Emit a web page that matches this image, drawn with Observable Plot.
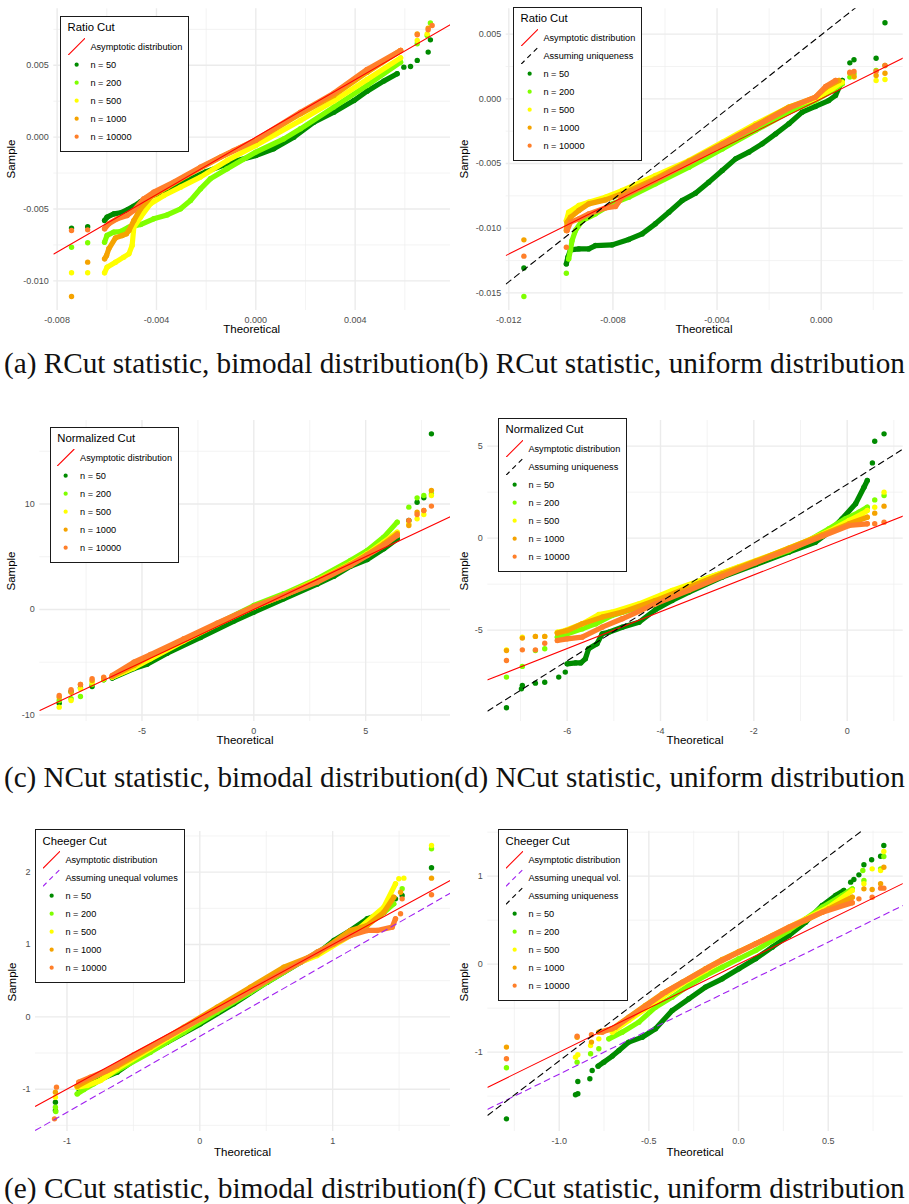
<!DOCTYPE html>
<html>
<head>
<meta charset="utf-8">
<script src="https://cdn.jsdelivr.net/npm/d3@7"></script>
<script src="https://cdn.jsdelivr.net/npm/@observablehq/plot@0.6"></script>
<style>
  html, body { margin: 0; padding: 0; background: #fff; }
  #page { position: relative; width: 909px; height: 1204px; overflow: hidden; background: #fff; font-family: "Liberation Sans", Arial, sans-serif; }
  .pnl { position: absolute; }
  .pnl svg { display: block; overflow: visible; }
  .at { position: absolute; font-size: 11.5px; color: #000; white-space: nowrap; transform: translate(-50%, -50%); line-height: 1; }
  .at.rot { transform: translate(-50%, -50%) rotate(-90deg); }
  .lg { position: absolute; background: #fff; border: 1px solid #1a1a1a; padding: 4.5px 6px 5px 6.3px; box-sizing: border-box; }
  .lt { font-size: 11.3px; line-height: 13px; height: 13px; margin-bottom: 3.5px; color: #000; white-space: nowrap; }
  .lr { display: flex; align-items: center; height: 18px; }
  .lr svg { width: 17.3px; height: 17.3px; flex: none; display: block; }
  .ll { margin-left: 5.5px; font-size: 9.2px; color: #000; white-space: nowrap; }
  #cap { position: absolute; left: 0; top: 0; pointer-events: none; }
</style>
</head>
<body>
<div id="page"></div>
<script>
// ---------------- shared categories ----------------
const seriesLabels = ["n = 50", "n = 200", "n = 500", "n = 1000", "n = 10000"];
const seriesColors = ["#008B00", "#7FFF00", "#FFFF00", "#F5A300", "#FF7F2A"];
const refColors = { asym: "#FF0000", uniq: "#000000", uneq: "#A020F0" };

// ---------------- (a) RCut, bimodal ----------------
const aTitle = "Ratio Cut";
const aXTicks = [-0.008, -0.004, 0, 0.004];
const aXLabels = ["-0.008", "-0.004", "0.000", "0.004"];
const aXMinor = [-0.006, -0.002, 0.002, 0.006];
const aYTicks = [-0.010, -0.005, 0, 0.005];
const aYLabels = ["-0.010", "-0.005", "0.000", "0.005"];
const aYMinor = [-0.0075, -0.0025, 0.0025, 0.0075];
const aXDomain = [-0.008134, 0.007839];
const aYDomain = [-0.012064, 0.008932];
const aLines = [["asym", "Asymptotic distribution", 1, 0]];
const a50b = [[-0.00609,-0.00580],[-0.00599,-0.00557],[-0.00572,-0.00534],[-0.00545,-0.00527],[-0.00518,-0.00506],[-0.00491,-0.00480],[-0.00464,-0.00450],[-0.00438,-0.00420],[-0.00397,-0.00394],[-0.00303,-0.00325],[-0.00200,-0.00240],[-0.00089,-0.00170],[0,-0.00128],[0.00072,-0.00081],[0.00153,0],[0.00234,0.00104],[0.00314,0.00174],[0.00395,0.00255],[0.00448,0.00320],[0.00515,0.00390],[0.00569,0.00441]];
const a50t = [[-0.00742,-0.00633],[-0.00677,-0.00624],[0.00596,0.00487],[0.00623,0.00492],[0.00650,0.00534],[0.00694,0.00592],[0.00703,0.00677]];
const a200b = [[-0.00609,-0.00731],[-0.00599,-0.00684],[-0.00572,-0.00661],[-0.00545,-0.00657],[-0.00511,-0.00626],[-0.00464,-0.00608],[-0.00411,-0.00568],[-0.00357,-0.00541],[-0.00303,-0.00499],[-0.00263,-0.00441],[-0.00223,-0.00360],[-0.00183,-0.00290],[-0.00115,-0.00220],[0,-0.00104],[0.00113,-0.00012],[0.00180,0.00058],[0.00314,0.00209],[0.00448,0.00360],[0.00583,0.00522]];
const a200t = [[-0.00742,-0.00766],[-0.00677,-0.00735],[0.00650,0.00650],[0.00690,0.00708],[0.00703,0.00794]];
const a500b = [[-0.00609,-0.00944],[-0.00599,-0.00905],[-0.00565,-0.00870],[-0.00532,-0.00835],[-0.00511,-0.00812],[-0.00498,-0.00754],[-0.00491,-0.00626],[-0.00464,-0.00557],[-0.00424,-0.00464],[-0.00370,-0.00406],[-0.00303,-0.00348],[-0.00223,-0.00278],[-0.00115,-0.00162],[0,-0.00058],[0.00180,0.00116],[0.00314,0.00251],[0.00448,0.00401],[0.00583,0.00552]];
const a500t = [[-0.00742,-0.00944],[-0.00677,-0.00944],[0.00650,0.00673],[0.00690,0.00719]];
const a1000b = [[-0.00609,-0.00847],[-0.00601,-0.00824],[-0.00592,-0.00777],[-0.00565,-0.00701],[-0.00538,-0.00684],[-0.00521,-0.00673],[-0.00511,-0.00650],[-0.00491,-0.00580],[-0.00464,-0.00499],[-0.00424,-0.00418],[-0.00357,-0.00348],[-0.00277,-0.00267],[-0.00142,-0.00139],[0,-0.00023],[0.00180,0.00162],[0.00314,0.00290],[0.00448,0.00452],[0.00583,0.00603]];
const a1000t = [[-0.00742,-0.01109],[-0.00677,-0.00870],[0.00650,0.00719],[0.00694,0.00759]];
const a10000b = [[-0.00609,-0.00638],[-0.00592,-0.00603],[-0.00558,-0.00568],[-0.00518,-0.00545],[-0.00491,-0.00510],[-0.00451,-0.00429],[-0.00411,-0.00383],[-0.00330,-0.00313],[-0.00223,-0.00209],[-0.00089,-0.00093],[0,-0.00019],[0.00180,0.00174],[0.00314,0.00306],[0.00448,0.00471],[0.00583,0.00603]];
const a10000t = [[-0.00742,-0.00650],[-0.00677,-0.00645],[0.00650,0.00712],[0.00694,0.00747],[0.00710,0.00777]];

// ---------------- (b) RCut, uniform ----------------
const bTitle = "Ratio Cut";
const bXTicks = [-0.012, -0.008, -0.004, 0];
const bXLabels = ["-0.012", "-0.008", "-0.004", "0.000"];
const bXMinor = [-0.010, -0.006, -0.002, 0.002];
const bYTicks = [-0.015, -0.010, -0.005, 0, 0.005];
const bYLabels = ["-0.015", "-0.010", "-0.005", "0.000", "0.005"];
const bYMinor = [-0.0125, -0.0075, -0.0025, 0.0025];
const bXDomain = [-0.01210, 0.00315];
const bYDomain = [-0.01636, 0.006958];
const bLines = [["asym", "Asymptotic distribution", 1, 0], ["uniq", "Assuming uniqueness", 1.59, 0.00494]];
const b50b = [[-0.00979,-0.01276],[-0.00973,-0.01224],[-0.00963,-0.01167],[-0.00931,-0.01160],[-0.00893,-0.01160],[-0.00867,-0.01134],[-0.00803,-0.01129],[-0.00739,-0.01087],[-0.00688,-0.01044],[-0.00637,-0.00966],[-0.00585,-0.00876],[-0.00534,-0.00786],[-0.00483,-0.00729],[-0.00432,-0.00644],[-0.00380,-0.00554],[-0.00329,-0.00464],[-0.00278,-0.00412],[-0.00227,-0.00348],[-0.00175,-0.00271],[-0.00124,-0.00193],[-0.00073,-0.00103],[-0.00022,-0.00059],[0.00029,-0.00013],[0.00055,0.00026],[0.00081,0.00142]];
const b50t = [[-0.01142,-0.01307],[0.00110,0.00278],[0.00126,0.00302],[0.00211,0.00314],[0.00245,0.00588]];
const b200b = [[-0.00970,-0.01237],[-0.00963,-0.01167],[-0.00957,-0.01095],[-0.00944,-0.01018],[-0.00918,-0.00941],[-0.00867,-0.00889],[-0.00803,-0.00812],[-0.00739,-0.00760],[-0.00637,-0.00657],[-0.00508,-0.00528],[-0.00380,-0.00387],[-0.00252,-0.00245],[-0.00124,-0.00103],[-0.00022,-0.00013],[0.00042,0.00064],[0.00081,0.00116]];
const b200t = [[-0.01142,-0.01528],[-0.00979,-0.01348],[0.00110,0.00168],[0.00126,0.00193],[0.00211,0.00219],[0.00245,0.00258]];
const b500b = [[-0.00979,-0.00941],[-0.00970,-0.00876],[-0.00931,-0.00825],[-0.00893,-0.00799],[-0.00829,-0.00760],[-0.00765,-0.00709],[-0.00637,-0.00593],[-0.00508,-0.00477],[-0.00380,-0.00335],[-0.00252,-0.00193],[-0.00124,-0.00064],[-0.00022,0],[0.00042,0.00077],[0.00081,0.00129]];
const b500t = [[0.00126,0.00168],[0.00211,0.00142],[0.00245,0.00149]];
const b1000b = [[-0.00979,-0.01018],[-0.00976,-0.00953],[-0.00963,-0.00915],[-0.00931,-0.00863],[-0.00893,-0.00812],[-0.00829,-0.00781],[-0.00765,-0.00734],[-0.00637,-0.00618],[-0.00508,-0.00482],[-0.00380,-0.00348],[-0.00252,-0.00206],[-0.00124,-0.00064],[-0.00022,0.00013],[0.00017,0.00085],[0.00068,0.00142]];
const b1000t = [[-0.01142,-0.01090],[0.00110,0.00198],[0.00126,0.00173],[0.00211,0.00180],[0.00245,0.00198]];
const b10000b = [[-0.00976,-0.01018],[-0.00963,-0.00953],[-0.00931,-0.00928],[-0.00893,-0.00889],[-0.00829,-0.00843],[-0.00790,-0.00832],[-0.00765,-0.00760],[-0.00637,-0.00631],[-0.00508,-0.00495],[-0.00380,-0.00353],[-0.00252,-0.00214],[-0.00124,-0.00072],[-0.00022,0.00013],[0.00017,0.00095],[0.00055,0.00142]];
const b10000t = [[-0.01142,-0.01216],[-0.00979,-0.01147],[0.00110,0.00206],[0.00126,0.00211],[0.00211,0.00214],[0.00245,0.00258]];

// ---------------- (c) NCut, bimodal ----------------
const cTitle = "Normalized Cut";
const cXTicks = [-5, 0, 5];
const cXLabels = ["-5", "0", "5"];
const cXMinor = [-7.5, -2.5, 2.5, 7.5];
const cYTicks = [-10, 0, 10];
const cYLabels = ["-10", "0", "10"];
const cYMinor = [-5, 5, 15];
const cXDomain = [-9.568, 8.793];
const cYDomain = [-10.62, 17.915];
const cLines = [["asym", "Asymptotic distribution", 1, 0]];
const c50b = [[-6.33,-6.50],[-5.36,-5.60],[-4.77,-5.20],[-3.87,-4.15],[-2.38,-2.65],[-0.89,-1.10],[0,-0.25],[1.34,1.01],[2.83,2.40],[3.58,3.15],[4.32,4.10],[5.07,4.74],[5.81,5.75],[6.41,6.70]];
const c50t = [[-8.70,-8.88],[-8.17,-7.77],[-7.75,-7.43],[-7.23,-7.30],[-6.71,-6.67],[6.93,8.44],[7.30,10.17],[7.60,10.58],[7.94,16.65]];
const c200b = [[-6.33,-6.41],[-5.36,-5.47],[-4.62,-4.52],[-3.13,-2.94],[-1.64,-1.36],[0,0.38],[1.34,1.49],[2.83,2.91],[4.32,4.64],[5.07,5.59],[5.81,6.86],[6.41,8.28]];
const c200t = [[-8.70,-8.63],[-8.17,-8.47],[-7.75,-8.25],[-7.23,-7.11],[-6.71,-6.67],[6.93,9.70],[7.30,10.58],[7.60,10.81],[7.94,10.96]];
const c500b = [[-6.33,-6.41],[-5.36,-5.53],[-4.62,-4.68],[-3.13,-3.00],[-1.64,-1.42],[0,0.22],[1.34,1.33],[2.83,2.75],[4.32,4.33],[5.07,5.28],[5.81,6.38],[6.41,7.33]];
const c500t = [[-8.70,-9.26],[-8.17,-8.63],[-7.75,-7.52],[-7.23,-6.89],[-6.71,-6.57],[6.93,8.12],[7.30,8.59],[7.60,9.00],[7.94,10.81]];
const c1000b = [[-6.33,-6.35],[-5.36,-5.31],[-4.62,-4.36],[-3.13,-2.88],[-1.64,-1.36],[0,0.22],[1.34,1.33],[2.83,2.69],[4.32,4.27],[5.07,5.21],[5.81,6.22],[6.41,7.17]];
const c1000t = [[-8.70,-8.31],[-8.17,-7.84],[-7.75,-7.11],[-7.23,-6.73],[-6.71,-6.51],[6.93,7.96],[7.30,9.23],[7.60,9.38],[7.94,11.28]];
const c10000b = [[-6.33,-6.26],[-5.36,-4.99],[-4.62,-4.27],[-3.13,-2.78],[-1.64,-1.30],[0,0.28],[1.34,1.33],[2.83,2.59],[4.32,4.17],[5.07,5.12],[5.81,6.07],[6.41,7.01]];
const c10000t = [[-8.70,-8.15],[-8.17,-7.61],[-7.75,-7.11],[-7.23,-6.57],[-6.71,-6.41],[6.93,8.44],[7.30,9.00],[7.60,9.38],[7.94,9.80]];

// ---------------- (d) NCut, uniform ----------------
const dTitle = "Normalized Cut";
const dXTicks = [-6, -4, -2, 0];
const dXLabels = ["-6", "-4", "-2", "0"];
const dXMinor = [-7, -5, -3, -1, 1];
const dYTicks = [-5, 0, 5];
const dYLabels = ["-5", "0", "5"];
const dYMinor = [-7.5, -2.5, 2.5];
const dXDomain = [-7.70, 1.20];
const dYDomain = [-9.964, 6.395];
const dLines = [["asym", "Asymptotic distribution", 1, 0], ["uniq", "Assuming uniqueness", 1.6, 2.93]];
const d50b = [[-6.00,-6.83],[-5.82,-6.78],[-5.71,-6.78],[-5.61,-6.56],[-5.54,-6.01],[-5.36,-5.74],[-5.25,-5.20],[-5.11,-5.11],[-4.82,-4.84],[-4.46,-4.57],[-4.11,-3.89],[-3.75,-3.39],[-3.39,-2.93],[-2.68,-2.12],[-1.96,-1.43],[-1.25,-0.76],[-0.68,-0.22],[-0.39,0.33],[-0.11,1.05],[0.18,1.87],[0.36,2.77],[0.43,3.13]];
const d50t = [[-7.30,-9.22],[-6.98,-8.19],[-6.96,-8.01],[-6.68,-7.88],[-6.48,-7.83],[-6.18,-7.55],[-6.04,-7.28],[0.54,4.09],[0.59,5.27],[0.79,5.67]];
const d200b = [[-6.21,-5.38],[-6.04,-5.24],[-5.68,-4.93],[-5.39,-4.66],[-5.04,-4.20],[-4.46,-3.75],[-3.75,-2.99],[-3.04,-2.21],[-2.32,-1.58],[-1.96,-1.30],[-1.25,-0.67],[-0.89,-0.22],[-0.39,0.51],[-0.04,1.05],[0.25,1.41],[0.43,1.68]];
const d200t = [[-7.30,-7.55],[-6.96,-6.97],[-6.68,-6.11],[-6.48,-6.01],[0.59,2.08],[0.79,2.32]];
const d500b = [[-6.21,-5.11],[-6.04,-5.02],[-5.68,-4.66],[-5.32,-4.15],[-5.04,-4.02],[-4.46,-3.57],[-3.75,-2.84],[-3.04,-2.21],[-2.32,-1.55],[-1.61,-0.90],[-0.89,-0.18],[-0.39,0.38],[0.04,0.96],[0.32,1.32],[0.43,1.50]];
const d500t = [[-7.30,-6.07],[-6.96,-5.38],[-6.68,-5.34],[-6.48,-5.34],[0.59,1.68],[0.79,2.50]];
const d1000b = [[-6.21,-5.16],[-6.00,-5.02],[-5.68,-4.66],[-5.25,-4.29],[-4.82,-4.02],[-4.11,-3.39],[-3.39,-2.66],[-2.68,-1.94],[-1.96,-1.25],[-1.25,-0.55],[-0.54,0.18],[0.04,0.78],[0.43,1.14]];
const d1000t = [[-7.30,-6.11],[-6.96,-5.43],[-6.68,-5.34],[-6.48,-5.34],[0.59,1.36],[0.79,1.74]];
const d10000b = [[-6.21,-5.56],[-6.00,-5.47],[-5.68,-5.38],[-5.25,-4.84],[-4.82,-4.38],[-4.11,-3.57],[-3.39,-2.84],[-2.68,-2.08],[-1.96,-1.34],[-1.25,-0.62],[-0.54,0.10],[0.04,0.69],[0.43,0.78]];
const d10000t = [[-7.30,-6.65],[-6.96,-6.07],[-6.68,-6.07],[-6.48,-5.71],[0.59,0.78],[0.79,0.87]];

// ---------------- (e) CCut, bimodal ----------------
const eTitle = "Cheeger Cut";
const eXTicks = [-1, 0, 1];
const eXLabels = ["-1", "0", "1"];
const eXMinor = [-0.5, 0.5, 1.5];
const eYTicks = [-1, 0, 1, 2];
const eYLabels = ["-1", "0", "1", "2"];
const eYMinor = [-1.5, -0.5, 0.5, 1.5, 2.5];
const eXDomain = [-1.237, 1.887];
const eYDomain = [-1.585, 2.562];
const eLines = [["asym", "Asymptotic distribution", 1, 0], ["uneq", "Assuming unequal volumes", 1.05, -0.27]];
const e50b = [[-0.911,-0.995],[-0.798,-0.903],[-0.622,-0.765],[-0.497,-0.604],[-0.246,-0.350],[0.005,-0.097],[0.256,0.180],[0.507,0.479],[0.758,0.756],[0.883,0.871],[1.009,1.055],[1.134,1.194],[1.260,1.355],[1.335,1.401],[1.385,1.447]];
const e50t = [[-1.087,-1.180],[-1.087,-1.295],[1.473,1.631],[1.523,1.677],[1.744,2.060]];
const e200b = [[-0.923,-1.065],[-0.873,-1.005],[-0.798,-0.926],[-0.622,-0.742],[-0.371,-0.488],[-0.120,-0.212],[0.130,0.065],[0.381,0.341],[0.632,0.617],[0.883,0.894],[1.134,1.147],[1.360,1.401],[1.460,1.562]];
const e200t = [[-1.087,-1.249],[-1.084,-1.309],[1.523,1.770],[1.744,2.323]];
const e500b = [[-0.923,-0.972],[-0.848,-0.949],[-0.748,-0.880],[-0.622,-0.719],[-0.371,-0.442],[-0.120,-0.166],[0.130,0.111],[0.381,0.387],[0.632,0.664],[0.883,0.848],[1.134,1.124],[1.385,1.516],[1.473,1.839]];
const e500t = [[-1.087,-1.111],[1.498,1.908],[1.536,1.917],[1.744,2.369]];
const e1000b = [[-0.923,-0.958],[-0.798,-0.834],[-0.622,-0.682],[-0.371,-0.419],[-0.120,-0.143],[0.130,0.134],[0.381,0.410],[0.632,0.687],[0.883,0.871],[1.134,1.194],[1.260,1.263],[1.385,1.447],[1.460,1.654]];
const e1000t = [[-1.087,-1.041],[1.511,1.723],[1.744,1.917]];
const e10000b = [[-0.911,-0.903],[-0.823,-0.834],[-0.698,-0.742],[-0.497,-0.525],[-0.246,-0.281],[0.005,-0.028],[0.256,0.226],[0.507,0.502],[0.758,0.756],[0.883,0.894],[1.009,1.009],[1.134,1.124],[1.260,1.194],[1.335,1.194],[1.448,1.240],[1.473,1.355]];
const e10000t = [[-1.094,-1.410],[-1.079,-0.972],[1.511,1.424],[1.523,1.631],[1.744,1.687]];

// ---------------- (f) CCut, uniform ----------------
const fTitle = "Cheeger Cut";
const fXTicks = [-1.0, -0.5, 0, 0.5];
const fXLabels = ["-1.0", "-0.5", "0.0", "0.5"];
const fXMinor = [-1.25, -0.75, -0.25, 0.25, 0.75];
const fYTicks = [-1, 0, 1];
const fYLabels = ["-1", "0", "1"];
const fYMinor = [-1.5, -0.5, 0.5, 1.5];
const fXDomain = [-1.398, 0.918];
const fYDomain = [-1.902, 1.511];
const fLines = [["asym", "Asymptotic distribution", 1, 0], ["uneq", "Assuming unequal vol.", 1.0, -0.25], ["uniq", "Assuming uniqueness", 1.55, 0.45]];
const f50b = [[-0.783,-1.159],[-0.751,-1.114],[-0.704,-1.045],[-0.667,-0.981],[-0.612,-0.886],[-0.537,-0.830],[-0.463,-0.735],[-0.370,-0.527],[-0.277,-0.394],[-0.184,-0.261],[-0.091,-0.167],[0.002,-0.053],[0.095,0.061],[0.188,0.193],[0.281,0.326],[0.374,0.477],[0.467,0.667],[0.541,0.780],[0.587,0.837]];
const f50t = [[-1.294,-1.758],[-0.909,-1.485],[-0.896,-1.473],[-0.896,-1.333],[-0.829,-1.303],[-0.816,-1.208],[0.625,0.932],[0.643,0.962],[0.671,1.015],[0.699,1.129],[0.742,1.186],[0.792,1.227],[0.810,1.348]];
const f200b = [[-0.723,-0.849],[-0.649,-0.773],[-0.556,-0.659],[-0.463,-0.489],[-0.370,-0.375],[-0.277,-0.242],[-0.184,-0.129],[-0.091,-0.034],[0.002,0.061],[0.095,0.155],[0.188,0.269],[0.281,0.383],[0.374,0.515],[0.467,0.648],[0.578,0.780],[0.634,0.856]];
const f200t = [[-1.294,-1.178],[-0.900,-1.114],[-0.825,-1.019],[-0.779,-0.962],[0.693,1.064],[0.699,0.951],[0.792,1.083],[0.810,1.224]];
const f500b = [[-0.704,-0.773],[-0.612,-0.640],[-0.519,-0.508],[-0.426,-0.375],[-0.314,-0.223],[-0.184,-0.072],[-0.091,0.042],[0.002,0.136],[0.188,0.326],[0.374,0.515],[0.504,0.648],[0.634,0.837]];
const f500t = [[-0.909,-1.057],[-0.896,-1.030],[-0.825,-0.924],[-0.779,-0.849],[0.699,0.913],[0.745,1.083],[0.792,1.064],[0.810,1.280]];
const f1000b = [[-0.779,-0.773],[-0.704,-0.735],[-0.612,-0.602],[-0.519,-0.470],[-0.426,-0.337],[-0.314,-0.205],[-0.184,-0.053],[-0.091,0.053],[0.002,0.144],[0.188,0.318],[0.374,0.496],[0.504,0.629],[0.634,0.761]];
const f1000t = [[-1.294,-0.943],[-0.900,-0.830],[-0.820,-0.886],[0.699,0.856],[0.745,0.848],[0.792,0.913],[0.810,1.102]];
const f10000b = [[-0.760,-0.773],[-0.686,-0.716],[-0.593,-0.583],[-0.500,-0.451],[-0.407,-0.318],[-0.277,-0.167],[-0.165,-0.034],[-0.054,0.080],[0.095,0.231],[0.281,0.420],[0.467,0.591],[0.634,0.697]];
const f10000t = [[-1.294,-1.076],[-0.900,-0.818],[-0.820,-0.803],[0.671,0.742],[0.745,0.761],[0.792,0.864],[0.810,0.864]];

// ---------------- captions ----------------
const captionRows = [
  "(a) RCut statistic, bimodal distribution(b) RCut statistic, uniform distribution",
  "(c) NCut statistic, bimodal distribution(d) NCut statistic, uniform distribution",
  "(e) CCut statistic, bimodal distribution(f) CCut statistic, uniform distribution"
];

// ---------------- layout (positions only) ----------------
const panels = [
  { title: aTitle, xt: aXTicks, xl: aXLabels, xm: aXMinor, yt: aYTicks, yl: aYLabels, ym: aYMinor, xd: aXDomain, yd: aYDomain, lines: aLines,
    data: [[a50b,a50t],[a200b,a200t],[a500b,a500t],[a1000b,a1000t],[a10000b,a10000t]],
    left: 0, top: 0, w: 455, h: 340, ml: 53.3, mr: 5, mt: 8.3, mb: 30, xTitle: [251.7, 330], yTitle: [12, 159], legend: [60.3, 15.7] },
  { title: bTitle, xt: bXTicks, xl: bXLabels, xm: bXMinor, yt: bYTicks, yl: bYLabels, ym: bYMinor, xd: bXDomain, yd: bYDomain, lines: bLines,
    data: [[b50b,b50t],[b200b,b200t],[b500b,b500t],[b1000b,b1000t],[b10000b,b10000t]],
    left: 455, top: 0, w: 454, h: 340, ml: 50.7, mr: 6.3, mt: 8.3, mb: 30, xTitle: [704, 330], yTitle: [465, 159], legend: [513.3, 6.7] },
  { title: cTitle, xt: cXTicks, xl: cXLabels, xm: cXMinor, yt: cYTicks, yl: cYLabels, ym: cYMinor, xd: cXDomain, yd: cYDomain, lines: cLines,
    data: [[c50b,c50t],[c200b,c200t],[c500b,c500t],[c1000b,c1000t],[c10000b,c10000t]],
    left: 0, top: 410, w: 455, h: 345, ml: 39.3, mr: 5, mt: 10, mb: 34, xTitle: [245, 741], yTitle: [12, 570.5], legend: [50, 426.7] },
  { title: dTitle, xt: dXTicks, xl: dXLabels, xm: dXMinor, yt: dYTicks, yl: dYLabels, ym: dYMinor, xd: dXDomain, yd: dYDomain, lines: dLines,
    data: [[d50b,d50t],[d200b,d200t],[d500b,d500t],[d1000b,d1000t],[d10000b,d10000t]],
    left: 455, top: 410, w: 454, h: 345, ml: 32.3, mr: 6.3, mt: 10, mb: 34, xTitle: [695, 741], yTitle: [465, 570.5], legend: [498.3, 417.7] },
  { title: eTitle, xt: eXTicks, xl: eXLabels, xm: eXMinor, yt: eYTicks, yl: eYLabels, ym: eYMinor, xd: eXDomain, yd: eYDomain, lines: eLines,
    data: [[e50b,e50t],[e200b,e200t],[e500b,e500t],[e1000b,e1000t],[e10000b,e10000t]],
    left: 0, top: 815, w: 455, h: 345, ml: 35, mr: 5, mt: 16, mb: 29, xTitle: [242.5, 1152.7], yTitle: [12.7, 981.5], legend: [35.3, 829] },
  { title: fTitle, xt: fXTicks, xl: fXLabels, xm: fXMinor, yt: fYTicks, yl: fYLabels, ym: fYMinor, xd: fXDomain, yd: fYDomain, lines: fLines,
    data: [[f50b,f50t],[f200b,f200t],[f500b,f500t],[f1000b,f1000t],[f10000b,f10000t]],
    left: 455, top: 815, w: 454, h: 345, ml: 32.3, mr: 6.3, mt: 15.7, mb: 29, xTitle: [695, 1152.7], yTitle: [465, 981.5], legend: [498.3, 829] }
];
const captionBaselines = [373, 787, 1197.5];

const page = document.getElementById("page");
const dashArr = "6,4.5";

function buildPanel(p) {
  const marks = [
    Plot.ruleX(p.xm, { stroke: "#EEEEEE", strokeWidth: 0.7 }),
    Plot.ruleY(p.ym, { stroke: "#EEEEEE", strokeWidth: 0.7 }),
    Plot.ruleX(p.xt, { stroke: "#EBEBEB", strokeWidth: 1.4 }),
    Plot.ruleY(p.yt, { stroke: "#EBEBEB", strokeWidth: 1.4 })
  ];
  p.data.forEach(([band, tail], i) => {
    const b = band.map(([x, y]) => ({ x, y }));
    const pts = band.concat(tail).map(([x, y]) => ({ x, y }));
    marks.push(Plot.line(b, { x: "x", y: "y", stroke: seriesColors[i], strokeWidth: 5.2, strokeLinecap: "round", strokeLinejoin: "round", curve: "linear", clip: true }));
    marks.push(Plot.dot(pts, { x: "x", y: "y", fill: seriesColors[i], r: 2.7, clip: true }));
  });
  p.lines.forEach(([kind, label, slope, icpt]) => {
    const d = p.xd.map(x => ({ x, y: icpt + slope * x }));
    const opts = { x: "x", y: "y", stroke: refColors[kind], strokeWidth: 1.1, clip: true };
    if (kind !== "asym") opts.strokeDasharray = dashArr;
    marks.push(Plot.line(d, opts));
  });
  const svg = Plot.plot({
    width: p.w, height: p.h,
    marginLeft: p.ml, marginRight: p.mr, marginTop: p.mt, marginBottom: p.mb,
    style: { fontFamily: '"Liberation Sans", Arial, sans-serif', fontSize: "9px", color: "#4D4D4D", background: "transparent", overflow: "visible" },
    x: { domain: p.xd, ticks: p.xt, tickFormat: d => p.xl[p.xt.indexOf(d)], tickSize: 0, tickPadding: 6, label: null },
    y: { domain: p.yd, ticks: p.yt, tickFormat: d => p.yl[p.yt.indexOf(d)], tickSize: 0, tickPadding: 5, label: null },
    marks
  });
  const holder = document.createElement("div");
  holder.className = "pnl";
  holder.style.left = p.left + "px";
  holder.style.top = p.top + "px";
  holder.appendChild(svg);
  page.appendChild(holder);

  // axis titles
  const xt = document.createElement("div");
  xt.className = "at"; xt.textContent = "Theoretical";
  xt.style.left = p.xTitle[0] + "px"; xt.style.top = p.xTitle[1] + "px";
  page.appendChild(xt);
  const yt = document.createElement("div");
  yt.className = "at rot"; yt.textContent = "Sample";
  yt.style.left = p.yTitle[0] + "px"; yt.style.top = p.yTitle[1] + "px";
  page.appendChild(yt);

  // legend
  const lg = document.createElement("div");
  lg.className = "lg";
  lg.style.left = p.legend[0] + "px"; lg.style.top = p.legend[1] + "px";
  const t = document.createElement("div");
  t.className = "lt"; t.textContent = p.title;
  lg.appendChild(t);
  const NS = "http://www.w3.org/2000/svg";
  function row(label, draw) {
    const r = document.createElement("div");
    r.className = "lr";
    const k = document.createElementNS(NS, "svg");
    k.setAttribute("viewBox", "0 0 17.3 17.3");
    draw(k);
    r.appendChild(k);
    const l = document.createElement("span");
    l.className = "ll"; l.textContent = label;
    r.appendChild(l);
    lg.appendChild(r);
  }
  p.lines.forEach(([kind, label]) => {
    row(label, k => {
      const ln = document.createElementNS(NS, "line");
      ln.setAttribute("x1", 0); ln.setAttribute("y1", 17.3);
      ln.setAttribute("x2", 17.3); ln.setAttribute("y2", 0);
      ln.setAttribute("stroke", refColors[kind]);
      ln.setAttribute("stroke-width", 1.1);
      if (kind !== "asym") ln.setAttribute("stroke-dasharray", "5,4");
      k.appendChild(ln);
    });
  });
  seriesLabels.forEach((label, i) => {
    row(label, k => {
      const c = document.createElementNS(NS, "circle");
      c.setAttribute("cx", 8.65); c.setAttribute("cy", 8.65); c.setAttribute("r", 2.1);
      c.setAttribute("fill", seriesColors[i]);
      k.appendChild(c);
    });
  });
  page.appendChild(lg);
}

panels.forEach(buildPanel);

// captions
(function () {
  const NS = "http://www.w3.org/2000/svg";
  const cap = document.createElementNS(NS, "svg");
  cap.setAttribute("id", "cap");
  cap.setAttribute("width", 909);
  cap.setAttribute("height", 1204);
  const ctx = document.createElement("canvas").getContext("2d");
  ctx.font = '100px "Liberation Serif"';
  captionRows.forEach((txt, i) => {
    const w = ctx.measureText(txt).width;
    const size = 100 * 901 / w;
    const t = document.createElementNS(NS, "text");
    t.setAttribute("x", 4);
    t.setAttribute("y", captionBaselines[i]);
    t.setAttribute("font-family", '"Liberation Serif", serif');
    t.setAttribute("font-size", size.toFixed(2));
    t.setAttribute("fill", "#111");
    t.textContent = txt;
    cap.appendChild(t);
  });
  page.appendChild(cap);
})();
</script>
</body>
</html>
